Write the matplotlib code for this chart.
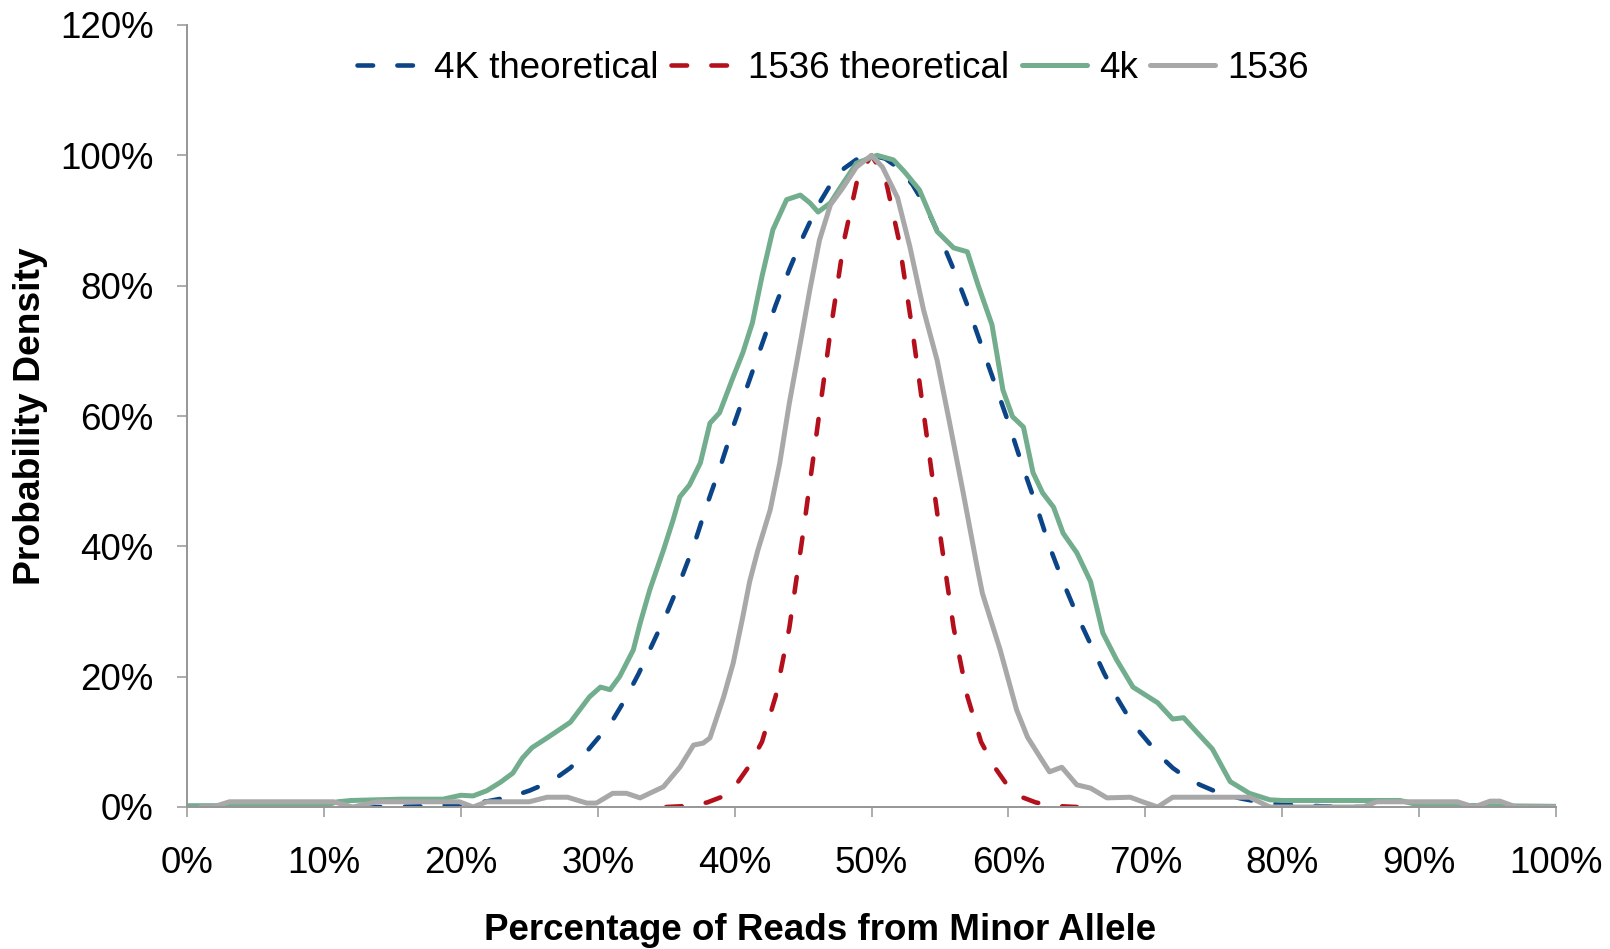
import matplotlib.pyplot as plt
import numpy as np

# theoretical curves (percent)
theo_4k_x = np.arange(13, 88)
theo_4k_y = [0, 0, 0, 0.05, 0.1, 0.2, 0.3, 0.4, 0.6, 0.9, 1.3, 1.8, 2.5, 3.4, 4.5, 6,
             8, 10.5, 13, 16.5, 20.5, 25, 29.5, 34.5, 40, 46.5, 52.5, 59, 65, 71, 77,
             82.5, 87.5, 92, 95.5, 98, 99.5,
             100,
             99.5, 98, 95.5, 92, 87.5, 82.5, 77, 71, 65, 59, 52.5, 46.5, 40, 34.5,
             29.5, 25, 20.5, 16.5, 13, 10.5, 8, 6, 4.5, 3.4, 2.5, 1.8, 1.3, 0.9,
             0.6, 0.4, 0.3, 0.2, 0.1, 0.05, 0, 0, 0]

theo_1536_x = np.arange(35, 66)
theo_1536_y = [0, 0.1, 0.3, 0.7, 1.5, 3.1, 6.1, 10, 17, 27.5, 42, 57.5, 73, 87, 96.6,
               100,
               96.6, 87, 73, 57.5, 42, 27.5, 17, 10, 6.1, 3.1, 1.5, 0.7, 0.3, 0.1, 0]

# observed 4k
obs_4k_x = [0, 5, 10, 11, 12, 15.6, 18.7, 20, 20.9, 21.9, 22.9, 23.8, 24.5, 25.2,
            26.3, 28, 29.4, 30.2, 30.9, 31.6, 32.6, 33.1, 33.8, 34.8, 35.5, 36,
            36.7, 37.5, 38.2, 38.9, 39.9, 40.6, 41.3, 42, 42.8, 43.8, 44.8, 45.5,
            46.1, 47, 47.7, 48.9, 50.4, 51.6, 52.4, 53.5, 54.8, 56, 57, 57.8, 58.8,
            59.6, 60.3, 61.1, 61.8, 62.5, 63.3, 64, 65, 66, 66.9, 67.9, 69.1, 70.9,
            72, 72.8, 73.8, 74.9, 76.2, 77.6, 79.1, 80, 88.6, 90, 100]
obs_4k_y = [0.2, 0.2, 0.2, 0.8, 1.0, 1.2, 1.2, 1.8, 1.7, 2.5, 3.8, 5.2, 7.5, 9.1,
            10.6, 13, 16.9, 18.4, 18.0, 20, 24.1, 28.2, 33.3, 39.4, 44, 47.6,
            49.4, 52.8, 58.9, 60.5, 66, 69.7, 74.3, 81.4, 88.6, 93.2, 93.9, 92.7,
            91.3, 92.7, 95, 98.8, 100, 99.3, 97.5, 94.7, 88.3, 85.8, 85.2, 80, 74,
            64, 59.9, 58.3, 51.3, 48.2, 46, 42, 39, 34.6, 26.7, 22.6, 18.4, 16,
            13.5, 13.7, 11.4, 8.9, 3.9, 2.1, 1.1, 1.0, 1.0, 0.3, 0.1]

# observed 1536
obs_1536_x = [1, 1.9, 3.1, 10.7, 12.1, 13.9, 19.9, 20.9, 21.9, 25, 26.3, 27.8, 29.2,
              29.9, 31.1, 32.1, 33.1, 34.8, 36, 37, 37.7, 38.2, 39.2, 39.9, 40.6,
              41.1, 41.7, 42.6, 43.3, 44, 44.8, 45.5, 46.2, 47, 47.9, 48.9, 50, 50.8,
              51.9, 52.8, 53.8, 54.8, 55.7, 56.7, 57.7, 58.1, 59.4, 60.6, 61.4, 62.3,
              63, 63.9, 65, 66, 67.2, 68.9, 69.8, 70.9, 72, 77.6, 79.1, 85.9, 86.9,
              92.8, 94, 95.2, 95.9, 97.1, 100]
obs_1536_y = [0, 0, 0.8, 0.8, 0, 0.8, 0.8, 0, 0.8, 0.8, 1.5, 1.5, 0.6, 0.6, 2.1,
              2.1, 1.4, 3.1, 6.1, 9.5, 9.8, 10.6, 16.9, 22.1, 29.2, 34.6, 39.4,
              45.6, 52.8, 62, 71.2, 79.4, 87, 92.4, 95, 98.2, 100, 98.2, 93.5, 86,
              76.3, 68.5, 59, 48.2, 37, 32.8, 24.1, 14.9, 10.7, 7.7, 5.4, 6.1, 3.4,
              2.9, 1.4, 1.5, 0.8, 0, 1.5, 1.5, 0, 0, 0.8, 0.8, 0, 0.9, 0.9, 0, 0]

plt.rcParams['font.family'] = ['Liberation Sans', 'DejaVu Sans']

fig = plt.figure(figsize=(16.1, 9.49), dpi=100)
ax = fig.add_axes([187 / 1610, 1 - 807 / 949, (1556 - 187) / 1610, (807 - 25) / 949])

dash = dict(linestyle=(0, (3.4, 5.3)), dash_capstyle='round', lw=3.3)
ax.plot(theo_4k_x, theo_4k_y, color='#0B4588', label='4K theoretical', **dash)
ax.plot(theo_1536_x, theo_1536_y, color='#B3101C', label='1536 theoretical', **dash)
ax.plot(obs_4k_x, obs_4k_y, color='#72AD8E', lw=3.6, label='4k',
        solid_capstyle='round', solid_joinstyle='round')
ax.plot(obs_1536_x, obs_1536_y, color='#A8A8A8', lw=3.6, label='1536',
        solid_capstyle='round', solid_joinstyle='round')

ax.set_xlim(0, 100)
ax.set_ylim(0, 120)
ax.set_xticks(np.arange(0, 101, 10))
ax.set_yticks(np.arange(0, 121, 20))
ax.set_xticklabels([f'{v}%' for v in range(0, 101, 10)])
ax.set_yticklabels([f'{v}%' for v in range(0, 121, 20)])

for s in ['top', 'right']:
    ax.spines[s].set_visible(False)
for s in ['left', 'bottom']:
    ax.spines[s].set_color('#969696')
    ax.spines[s].set_linewidth(1.4)
ax.tick_params(axis='both', direction='out', length=7.2, width=1.1, color='#969696',
               labelsize=26.5)
ax.tick_params(axis='y', pad=17)
ax.tick_params(axis='x', pad=21)

fig.text(31 / 1610, 1 - 416 / 949, 'Probability Density', rotation=90, fontsize=26.8,
         fontweight='bold', ha='center', va='center')
fig.text(820 / 1610, 1 - 940 / 949, 'Percentage of Reads from Minor Allele',
         fontsize=26.5, fontweight='bold', ha='center', va='baseline')

ax.legend(loc='center left', bbox_to_anchor=(357 / 1610, 1 - 68 / 949),
          bbox_transform=fig.transFigure, ncol=4, frameon=False, fontsize=26.5,
          handlelength=1.77, handletextpad=0.33, columnspacing=0.33,
          borderpad=0, borderaxespad=0)

fig.savefig('out.png', dpi=100)
